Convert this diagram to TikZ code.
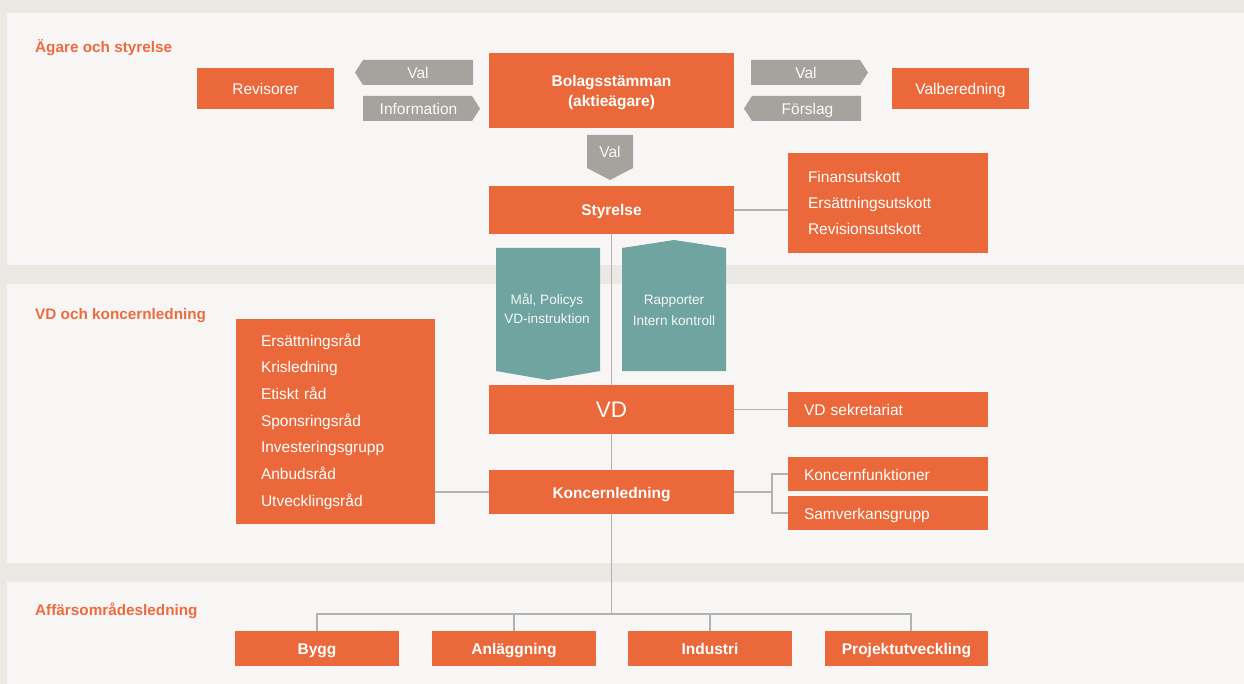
\documentclass[tikz,border=0pt]{standalone}
\usepackage{fontspec}
\setmainfont{Liberation Sans}
\definecolor{bgc}{RGB}{235,233,228}
\definecolor{panelc}{RGB}{247,246,244}
\definecolor{orng}{RGB}{234,104,57}
\definecolor{titlec}{RGB}{236,108,66}
\definecolor{grayarr}{RGB}{166,162,157}
\definecolor{tealc}{RGB}{111,164,160}
\definecolor{linec}{RGB}{178,178,178}
\tikzset{
  obox/.style={fill=orng, text=white, inner sep=0pt, outer sep=0pt, font=\fontsize{15.5}{18}\selectfont},
  one/.style={text height=12pt, text depth=0pt},
  bbox/.style={obox, font=\fontsize{15.5}{20}\selectfont\bfseries, align=center},
  lbox/.style={obox, align=left, inner xsep=#1, text width=200pt-2*#1},
  arrtext/.style={text=white!95!grayarr, inner sep=0pt, one, font=\fontsize{15.5}{18}\selectfont},
  tealtext/.style={text=white!92!tealc, inner sep=0pt, align=center},
  title/.style={text=titlec, anchor=base west, inner sep=0pt, font=\fontsize{15.3}{18}\selectfont\bfseries},
  conn/.style={draw=linec, line width=1.3pt},
}
\begin{document}
\begin{tikzpicture}[x=1pt,y=-1pt]
\useasboundingbox (0,0) rectangle (1244,684);
\fill[bgc] (0,0) rectangle (1244,684);
\fill[panelc] (7,13) rectangle (1244,265);
\fill[panelc] (7,284) rectangle (1244,563);
\fill[panelc] (7,582) rectangle (1244,684);

% section titles
\node[title] (t1) at (35,52.5) {Ägare och styrelse};
\node[title] (t2) at (35,319.5) {VD och koncernledning};
\node[title] (t3) at (35,615.5) {Affärsområdesledning};

\coordinate (bus) at (611.5,614);

% top row
\node[obox, one, minimum width=137pt, minimum height=41pt] (rev) at (265.5,88.5) {Revisorer};
\node[bbox, text depth=0pt, minimum width=245pt, minimum height=75pt] (bol) at (611.5,90.5) {Bolagsstämman\\(aktieägare)};
\node[obox, one, minimum width=137pt, minimum height=41pt] (valb) at (960.5,88.5) {Valberedning};

% gray arrows
\fill[grayarr] (355,72.5) -- (363,60) -- (473,60) -- (473,85) -- (363,85) -- cycle;
\node[arrtext] (a1) at (418,72.5) {Val};
\fill[grayarr] (363,96) -- (472,96) -- (480,108.5) -- (472,121) -- (363,121) -- cycle;
\node[arrtext] (a2) at (418.5,108.5) {Information};
\fill[grayarr] (751,60) -- (860,60) -- (868,72.5) -- (860,85) -- (751,85) -- cycle;
\node[arrtext] (a3) at (806,72.5) {Val};
\fill[grayarr] (744,108.5) -- (752,96) -- (861,96) -- (861,121) -- (752,121) -- cycle;
\node[arrtext] (a4) at (807.5,108.5) {Förslag};
\fill[grayarr] (587,135) -- (633,135) -- (633,168) -- (610,180) -- (587,168) -- cycle;
\node[arrtext] (a5) at (610,152) {Val};

% Styrelse and committees
\node[bbox, one, minimum width=245pt, minimum height=48pt] (styr) at (611.5,210) {Styrelse};
\node[lbox=20pt, minimum height=100pt, font=\fontsize{15.5}{26}\selectfont] (utsk) at (888,203) {Finansutskott\\Ersättningsutskott\\Revisionsutskott};
\draw[conn] (styr.east) -- (styr.east -| utsk.west);

% teal shapes
\fill[tealc] (496,248) -- (600,248) -- (600,371) -- (548,380) -- (496,371) -- cycle;
\node[tealtext, font=\fontsize{13.6}{19}\selectfont] (tl) at (547,308.5) {Mål, Policys\\VD-instruktion};
\fill[tealc] (622,248) -- (674,240) -- (726,248) -- (726,371) -- (622,371) -- cycle;
\node[tealtext, font=\fontsize{13.6}{21}\selectfont] (tr) at (674,310.5) {Rapporter\\Intern kontroll};

% VD
\node[obox, minimum width=245pt, minimum height=49pt, font=\fontsize{22.5}{24}\selectfont] (vd) at (611.5,409.5) {VD};
\node[lbox=16pt, one, minimum height=35pt] (vds) at (888,409.5) {VD sekretariat};
\draw[conn] (vd.east) -- (vd.east -| vds.west);
\draw[conn] (styr.south) -- (vd.north);

% left list
\node[obox, align=left, inner xsep=25pt, text width=149pt, minimum height=205pt, font=\fontsize{15.5}{26.7}\selectfont] (list) at (335.5,421.5)
  {Ersättningsråd\\Krisledning\\Etiskt råd\\Sponsringsråd\\Investeringsgrupp\\Anbudsråd\\Utvecklingsråd};

% Koncernledning
\node[bbox, one, minimum width=245pt, minimum height=44pt] (kl) at (611.5,492) {Koncernledning};
\node[lbox=16pt, one, minimum height=34pt] (kf) at (888,474) {Koncernfunktioner};
\node[lbox=16pt, one, minimum height=34pt] (sg) at (888,513) {Samverkansgrupp};
\draw[conn] (vd.south) -- (kl.north);
\draw[conn] (kl.west) -- (kl.west -| list.east);
\coordinate (kj) at (772,492);
\draw[conn] (kl.east) -- (kj);
\draw[conn] (kf.west) -| (kj) |- (sg.west);

% business areas
\node[bbox, one, minimum width=164pt, minimum height=35pt] (bygg) at (317,648.5) {Bygg};
\node[bbox, one, minimum width=164pt, minimum height=35pt] (anl) at (514,648.5) {Anläggning};
\node[bbox, one, minimum width=164pt, minimum height=35pt] (ind) at (710,648.5) {Industri};
\node[bbox, one, minimum width=163pt, minimum height=35pt] (proj) at (906.5,648.5) {Projektutveckling};
\coordinate (pdrop) at ([xshift=4.5pt]proj.north);
\draw[conn] (kl.south) -- (bus);
\draw[conn] (bygg.north) |- (bus) -| (pdrop);
\draw[conn] (anl.north) -- (anl.north |- bus);
\draw[conn] (ind.north) -- (ind.north |- bus);
\end{tikzpicture}
\end{document}
